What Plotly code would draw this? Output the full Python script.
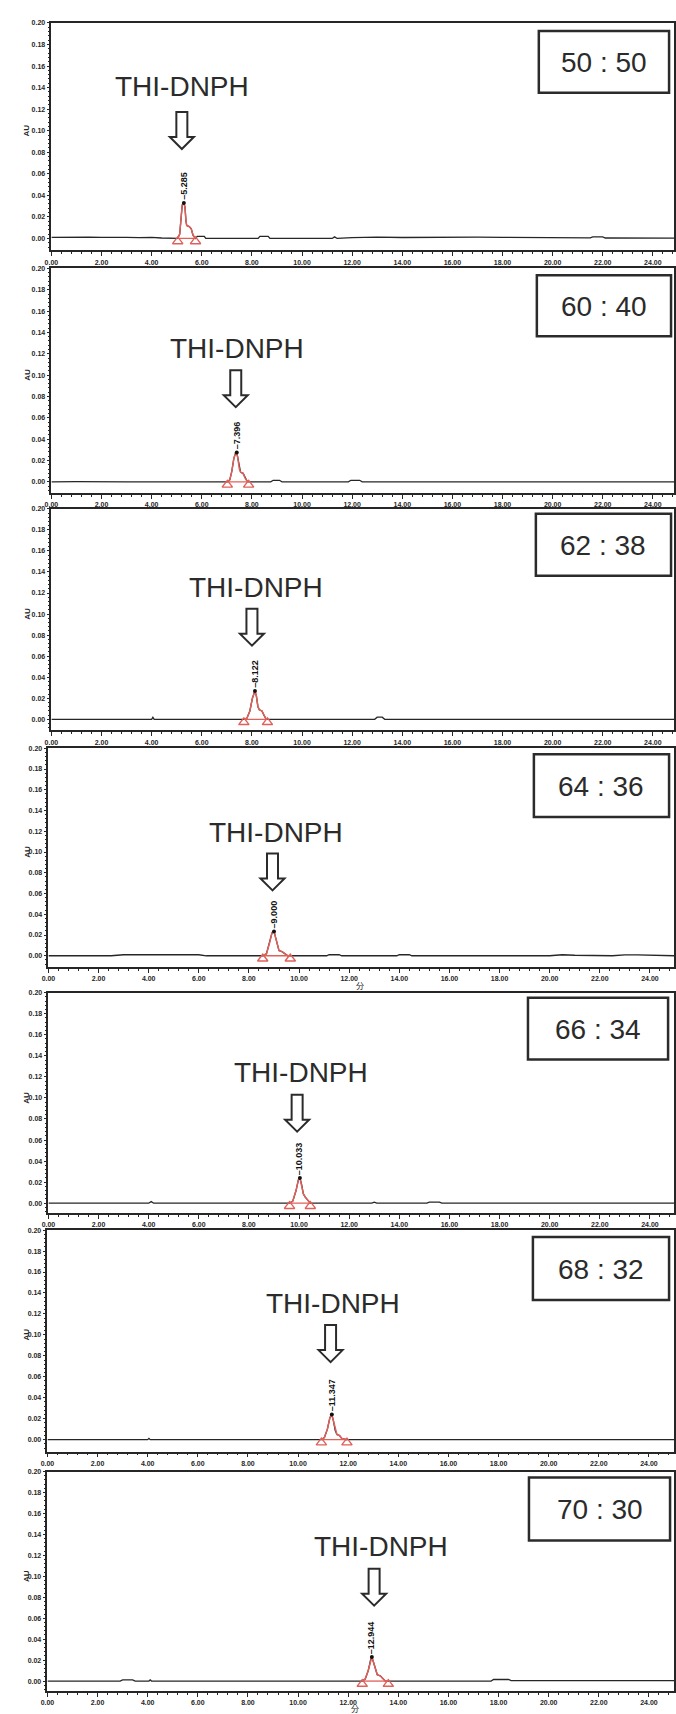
import plotly.graph_objects as go
import numpy as np

# ---------------- data ----------------
ratios = ["50 : 50", "60 : 40", "62 : 38", "64 : 36", "66 : 34", "68 : 32", "70 : 30"]
compound = "THI-DNPH"
retention_times = [5.285, 7.396, 8.122, 9.000, 10.033, 11.347, 12.944]
rt_labels = ["5.285", "7.396", "8.122", "9.000", "10.033", "11.347", "12.944"]
peak_start = [5.04, 7.02, 7.68, 8.55, 9.62, 10.93, 12.56]
peak_end = [5.75, 7.87, 8.62, 9.65, 10.45, 11.95, 13.60]

y_ticks = [0.00, 0.02, 0.04, 0.06, 0.08, 0.10, 0.12, 0.14, 0.16, 0.18, 0.20]
x_ticks = [0, 2, 4, 6, 8, 10, 12, 14, 16, 18, 20, 22, 24]
y_title = "AU"
x_unit = "分"

# chromatograms: time (min) and absorbance (AU)
t_50 = [0.0, 0.5, 1.0, 1.5, 2.0, 2.5, 3.0, 3.5, 4.0, 4.4, 4.9, 5.04, 5.12, 5.17, 5.22, 5.285,
        5.33, 5.37, 5.40, 5.50, 5.58, 5.65, 5.75, 5.82, 5.88, 6.10, 6.16, 8.25, 8.32, 8.65, 8.72,
        11.2, 11.3, 11.4, 12.0, 13.0, 14.0, 15.0, 16.0, 17.0, 18.0, 19.0, 20.0, 21.0, 21.5, 21.6,
        22.0, 22.1, 23.0, 24.0, 25.0]
a_50 = [0.0010, 0.0013, 0.0010, 0.0013, 0.0010, 0.0012, 0.0010, 0.0008, 0.0010, 0.0004, 0.0, 0.0, 0.004, 0.018, 0.031, 0.033,
        0.029, 0.016, 0.012, 0.011, 0.009, 0.003, 0.0, 0.002, 0.002, 0.002, 0.0, 0.0, 0.002, 0.002, 0.0,
        0.0, 0.0015, 0.0, 0.0008, 0.0012, 0.0009, 0.0012, 0.0010, 0.0012, 0.0010, 0.0010, 0.0008, 0.0006, 0.0006, 0.0015,
        0.0015, 0.0004, 0.0003, 0.0004, 0.0003]

t_60 = [0.0, 1.0, 3.0, 5.0, 6.5, 7.02, 7.12, 7.20, 7.28, 7.35, 7.396, 7.44, 7.50, 7.55, 7.65, 7.72,
        7.80, 7.87, 8.75, 8.85, 9.1, 9.2, 11.85, 11.95, 12.3, 12.4, 16.0, 20.0, 25.0]
a_60 = [0.0, 0.0003, 0.0, 0.0002, 0.0, 0.0, 0.002, 0.010, 0.022, 0.027, 0.0275, 0.022, 0.012, 0.009, 0.008, 0.004,
        0.001, 0.0, 0.0, 0.0015, 0.0015, 0.0, 0.0, 0.0015, 0.0015, 0.0, 0.0, 0.0003, 0.0]

t_62 = [0.0, 2.0, 4.0, 4.05, 4.1, 6.0, 7.68, 7.80, 7.92, 8.02, 8.122, 8.18, 8.24, 8.30, 8.40, 8.48,
        8.55, 8.62, 12.9, 13.0, 13.2, 13.3, 18.0, 25.0]
a_62 = [0.0, 0.0, 0.0, 0.002, 0.0, 0.0, 0.0, 0.001, 0.008, 0.020, 0.027, 0.022, 0.012, 0.009, 0.008, 0.004,
        0.001, 0.0, 0.0, 0.002, 0.002, 0.0, 0.0, 0.0]

t_64 = [0.0, 2.5, 3.0, 4.0, 5.0, 6.0, 6.3, 8.55, 8.70, 8.82, 8.92, 9.000, 9.06, 9.14, 9.20, 9.32,
        9.42, 9.55, 9.65, 11.1, 11.2, 11.6, 11.7, 13.9, 14.0, 14.4, 14.5, 20.0, 20.5, 21.0, 22.5, 23.0,
        23.5, 24.0, 25.0]
a_64 = [0.0, 0.0, 0.001, 0.0012, 0.0008, 0.001, 0.0, 0.0, 0.002, 0.012, 0.022, 0.0235, 0.018, 0.008, 0.005, 0.004,
        0.002, 0.0, 0.0, 0.0, 0.001, 0.001, 0.0, 0.0, 0.001, 0.001, 0.0, 0.0, 0.001, 0.0005, 0.0, 0.0008,
        0.0008, 0.0004, 0.0]

t_66 = [0.0, 2.0, 4.0, 4.1, 4.2, 7.0, 9.62, 9.75, 9.88, 9.97, 10.033, 10.10, 10.17, 10.24, 10.32, 10.40,
        10.45, 12.9, 13.0, 13.1, 15.1, 15.2, 15.6, 15.7, 20.0, 25.0]
a_66 = [0.0, 0.0, 0.0, 0.0015, 0.0, 0.0, 0.0, 0.002, 0.012, 0.022, 0.024, 0.018, 0.009, 0.006, 0.004, 0.001,
        0.0, 0.0, 0.001, 0.0, 0.0, 0.001, 0.001, 0.0, 0.0, 0.0]

t_68 = [0.0, 2.0, 4.0, 4.05, 4.1, 7.0, 10.93, 11.05, 11.17, 11.27, 11.347, 11.41, 11.48, 11.55, 11.65, 11.75,
        11.95, 16.0, 20.0, 25.0]
a_68 = [0.0, 0.0, 0.0, 0.0012, 0.0, 0.0, 0.0, 0.002, 0.010, 0.021, 0.024, 0.018, 0.009, 0.005, 0.004, 0.001,
        0.0, 0.0, 0.0, 0.0]

t_70 = [0.0, 2.0, 2.9, 3.0, 3.4, 3.5, 4.05, 4.1, 4.15, 8.0, 12.56, 12.68, 12.80, 12.89, 12.944, 13.01,
        13.09, 13.16, 13.28, 13.38, 13.48, 13.60, 17.7, 17.8, 18.4, 18.5, 22.0, 25.0]
a_70 = [0.0, 0.0, 0.0, 0.0012, 0.0012, 0.0, 0.0, 0.0012, 0.0, 0.0, 0.0, 0.002, 0.010, 0.020, 0.023, 0.018,
        0.010, 0.006, 0.005, 0.002, 0.0, 0.0, 0.0, 0.0015, 0.0015, 0.0005, 0.0004, 0.0004]

times = [t_50, t_60, t_62, t_64, t_66, t_68, t_70]
absorb = [a_50, a_60, a_62, a_64, a_66, a_68, a_70]

# ---------------- layout / style (pixels) ----------------
W, H = 676, 1714
panel_px = [(19, 235, 247), (265, 479, 490), (506, 717, 728), (746, 954, 965),
            (991, 1202, 1212), (1229, 1439, 1451), (1471, 1681, 1691)]
x0_px = [45, 45, 45, 42, 42, 41, 41]
PX_PER_MIN = 25.4
label_dx = [-0.08, 0.0, 0.03, 0.09, 0.05, 0.03, 0.36]
label_y = [0.141, 0.125, 0.125, 0.119, 0.124, 0.130, 0.128]
arrow_dx = [-0.08, -0.04, -0.12, -0.06, -0.11, -0.05, 0.09]
arrow_y = [0.083, 0.070, 0.070, 0.063, 0.068, 0.074, 0.072]
box_px = [(539, 671, 27, 89), (537, 673, 272, 333), (536, 673, 511, 573), (534, 671, 752, 815),
          (528, 670, 996, 1058), (533, 671, 1236, 1299), (529, 672, 1477, 1540)]
unit_marks = [(3, 358, 984), (6, 353, 1708)]

INK = "#262626"
RED = "#e0605a"
FONT = "Liberation Sans"

fig = go.Figure()
layout = dict(width=W, height=H, margin=dict(l=0, r=0, t=0, b=0),
              paper_bgcolor="white", plot_bgcolor="white", showlegend=False)
annotations = []
shapes = []

for i in range(7):
    n = i + 1
    sfx = "" if n == 1 else str(n)
    xa, ya = "x" + sfx, "y" + sfx
    top, base, bot = panel_px[i]
    ppa = (base - top) / 0.20  # px per AU
    ymin = -(bot - base) / ppa
    xmax = (W - x0_px[i]) / PX_PER_MIN

    layout["xaxis" + sfx] = dict(
        domain=[x0_px[i] / W, 1.0], range=[0, xmax], anchor=ya,
        tickmode="array", tickvals=x_ticks, ticktext=[f"{v:.2f}" for v in x_ticks],
        ticks="outside", ticklen=4, tickwidth=1, tickcolor=INK,
        minor=dict(tickmode="linear", tick0=0, dtick=0.4, ticks="outside", ticklen=2, tickcolor=INK),
        showline=True, linecolor=INK, linewidth=1.6, mirror=True,
        showgrid=False, zeroline=False,
        tickfont=dict(family=FONT, size=7, color=INK, weight="bold"))
    layout["yaxis" + sfx] = dict(
        domain=[1 - bot / H, 1 - top / H], range=[ymin, 0.20], anchor=xa,
        tickmode="array", tickvals=y_ticks, ticktext=[f"{v:.2f}" for v in y_ticks],
        ticks="outside", ticklen=3, tickwidth=1, tickcolor=INK,
        minor=dict(tickmode="linear", tick0=0, dtick=0.004, ticks="outside", ticklen=2, tickcolor=INK),
        showline=True, linecolor=INK, linewidth=1.6, mirror=True,
        showgrid=False, zeroline=False,
        tickfont=dict(family=FONT, size=7, color=INK, weight="bold"))

    t = np.array(times[i])
    a = np.array(absorb[i])
    fig.add_trace(go.Scatter(x=t, y=a, mode="lines", line=dict(color=INK, width=1.3),
                             xaxis=xa, yaxis=ya, hoverinfo="skip"))
    m = (t >= peak_start[i]) & (t <= peak_end[i])
    fig.add_trace(go.Scatter(x=t[m], y=a[m], mode="lines", line=dict(color=RED, width=1.5),
                             xaxis=xa, yaxis=ya, hoverinfo="skip"))
    fig.add_trace(go.Scatter(x=[peak_start[i], peak_end[i]], y=[0, 0], mode="lines",
                             line=dict(color=RED, width=1.3), xaxis=xa, yaxis=ya, hoverinfo="skip"))
    fig.add_trace(go.Scatter(x=[peak_start[i], peak_end[i]], y=[-3 / ppa, -3 / ppa], mode="markers",
                             marker=dict(symbol="triangle-up-open", size=9, color=RED, line=dict(width=1.4, color=RED)),
                             xaxis=xa, yaxis=ya, hoverinfo="skip"))
    apex = float(a[m].max())
    fig.add_trace(go.Scatter(x=[retention_times[i]], y=[apex], mode="markers",
                             marker=dict(size=4, color="#111"), xaxis=xa, yaxis=ya, hoverinfo="skip"))

    # retention time label (rotated)
    annotations.append(dict(x=retention_times[i], y=apex + 1 / ppa, xref=xa, yref=ya,
                            text="\u2013" + rt_labels[i], textangle=-90, showarrow=False,
                            xanchor="center", yanchor="bottom",
                            font=dict(family=FONT, size=9, color="#111", weight="bold")))
    # compound label
    annotations.append(dict(x=retention_times[i] + label_dx[i], y=label_y[i], xref=xa, yref=ya,
                            text=compound, showarrow=False, xanchor="center", yanchor="middle",
                            font=dict(family=FONT, size=28, color="#2b2b2b")))
    # hollow down arrow (pixel path anchored at tip)
    shapes.append(dict(type="path", xref=xa, yref=ya, xsizemode="pixel", ysizemode="pixel",
                       xanchor=retention_times[i] + arrow_dx[i], yanchor=arrow_y[i],
                       path="M 0 0 L -12 12 L -5.5 12 L -5.5 37 L 5.5 37 L 5.5 12 L 12 12 Z",
                       line=dict(color="#2b2b2b", width=2), fillcolor="white"))
    # ratio box
    bx0, bx1, by0, by1 = box_px[i]
    shapes.append(dict(type="rect", xref="paper", yref="paper",
                       x0=bx0 / W, x1=bx1 / W, y0=1 - by1 / H, y1=1 - by0 / H,
                       line=dict(color="#2b2b2b", width=2.5), fillcolor="rgba(0,0,0,0)"))
    annotations.append(dict(x=(bx0 + bx1) / 2 / W, y=1 - ((by0 + by1) / 2 + 1) / H, xref="paper", yref="paper",
                            text=ratios[i], showarrow=False, xanchor="center", yanchor="middle",
                            font=dict(family=FONT, size=28, color="#2b2b2b")))
    # AU title
    annotations.append(dict(x=20 / W, y=1 - (base - 0.10 * ppa) / H, xref="paper", yref="paper",
                            text=y_title, textangle=-90, showarrow=False, xanchor="center", yanchor="middle",
                            font=dict(family=FONT, size=8, color=INK, weight="bold")))

for (pi, px, py) in unit_marks:
    annotations.append(dict(x=px / W, y=1 - py / H, xref="paper", yref="paper", text=x_unit,
                            showarrow=False, xanchor="center", yanchor="middle",
                            font=dict(family="Noto Sans CJK JP", size=8, color=INK)))

layout["annotations"] = annotations
layout["shapes"] = shapes
fig.update_layout(**layout)
fig.write_html("out.html")
